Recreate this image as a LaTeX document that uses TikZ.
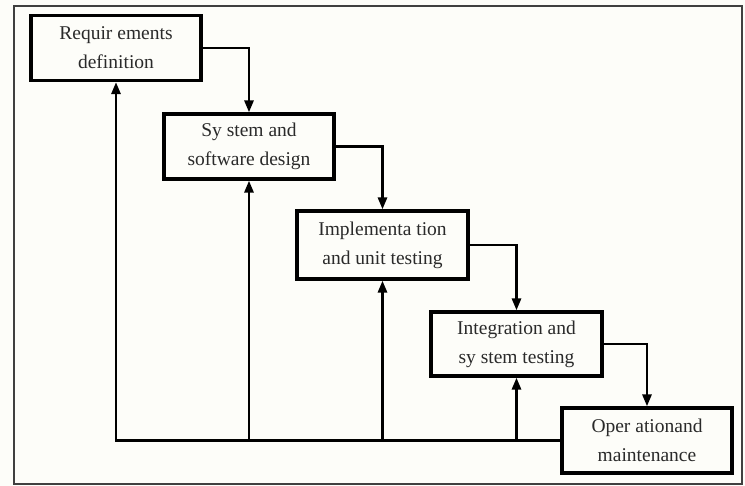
\documentclass[tikz,border=0pt]{standalone}
\usepackage{fontspec}
\setmainfont{Liberation Serif}
\usetikzlibrary{arrows.meta}
\definecolor{bg}{HTML}{FDFDF9}
\definecolor{txt}{HTML}{2A2A2A}
\begin{document}
\begin{tikzpicture}[x=1pt,y=-1pt,
  stage/.style={draw=black, line width=3.2pt, fill=bg, minimum width=170pt, minimum height=65pt,
    align=center, inner sep=0pt, text=txt, font=\fontsize{19.5}{29}\selectfont},
  flow/.style={line width=2.8pt, -{Triangle[length=12pt,width=9pt]}}
]
\useasboundingbox (0,0) rectangle (745,486);
\fill[bg] (0,0) rectangle (745,486);
\draw[line width=1.8pt, draw=black!75] (14,6) rectangle (742,484);

\node[stage] (a) at (116,48) {Requir ements\\definition};
\node[stage] (b) at (249,146.5) {Sy stem and\\software design};
\node[stage, minimum width=171pt, minimum height=68pt] (c) at (382.5,245) {Implementa tion\\and unit testing};
\node[stage, minimum width=171pt, minimum height=64pt] (d) at (516.5,344) {Integration and\\sy stem testing};
\node[stage] (e) at (647,440.5) {Oper ationand\\maintenance};

\draw[flow] (a.east) -| (b.north);
\draw[flow] (b.east) -| (c.north);
\draw[flow] (c.east) -| (d.north);
\draw[flow] (d.east) -| (e.north);

\draw[flow] (e.west) -| (a.south);
\draw[flow] (b.south |- e.west) -- (b.south);
\draw[flow] (c.south |- e.west) -- (c.south);
\draw[flow] (d.south |- e.west) -- (d.south);
\end{tikzpicture}
\end{document}
